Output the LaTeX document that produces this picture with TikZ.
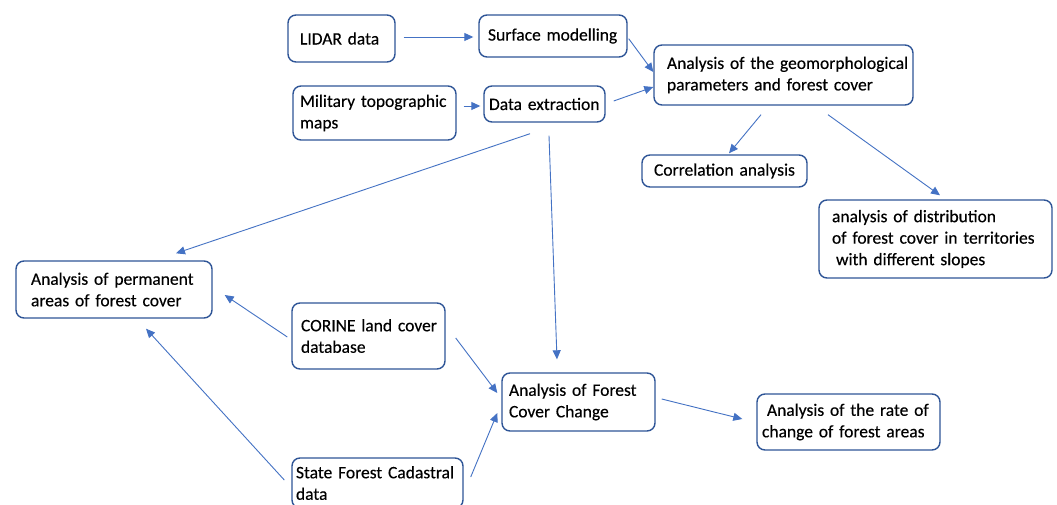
\documentclass[tikz,border=0pt]{standalone}
\usepackage{fontspec}
\setmainfont{Carlito}[FakeBold=0.3]
\usetikzlibrary{arrows.meta,calc}
\definecolor{boxblue}{HTML}{2F5597}
\definecolor{arrblue}{HTML}{4472C4}
\newcommand{\ind}[1]{\hspace*{#1pt}}
\begin{document}
\begin{tikzpicture}[x=1pt,y=-1pt,
  box/.style={draw=boxblue, line width=1.4pt, rounded corners=8pt, inner xsep=0pt, inner ysep=0pt,
    align=left, font=\fontsize{17.5}{21.5}\selectfont, text=black},
  arr/.style={draw=arrblue, line width=0.9pt, -{Triangle[length=9pt,width=8pt]}}]
\useasboundingbox[fill=white] (0,0) rectangle (1057,505);

\node[box, minimum width=107pt, text width=107pt, minimum height=47pt] (lidar) at (341.5,38.5) {\ind{12}LIDAR data};
\node[box, minimum width=148pt, text width=148pt, minimum height=42pt] (surf) at (553,36) {\ind{9}Surface modelling};
\node[box, minimum width=163pt, text width=163pt, minimum height=54pt] (mil) at (374.5,113) {\ind{7}Military topographic\\\ind{7}maps};
\node[box, minimum width=121pt, text width=121pt, minimum height=36pt] (dex) at (544.5,104) {\ind{5}Data extraction};
\node[box, minimum width=259pt, text width=259pt, minimum height=60pt] (geo) at (783.5,75) {\ind{13}Analysis of the geomorphological\\\ind{13}parameters and forest cover};
\node[box, minimum width=165pt, text width=165pt, minimum height=32pt] (cor) at (724.5,171) {\ind{12}Correlation analysis};
\node[box, minimum width=233pt, text width=233pt, minimum height=78pt] (dist) at (935.5,239) {\ind{13}analysis of distribution\\\ind{13}of forest cover in territories\\\ind{17}with different slopes};
\node[box, minimum width=196pt, text width=196pt, minimum height=57pt] (perm) at (114,289.5) {\ind{15}Analysis of permanent\\\ind{15}areas of forest cover};
\node[box, minimum width=153pt, text width=153pt, minimum height=66pt] (corine) at (368.5,336) {\ind{9}CORINE land cover\\\ind{9}database};
\node[box, minimum width=171pt, text width=171pt, minimum height=50pt] (state) at (377.5,483) {\ind{4}State Forest Cadastral\\\ind{4}data};
\node[box, minimum width=153pt, text width=153pt, minimum height=58pt] (chg) at (578.5,402) {\ind{7}Analysis of Forest\\\ind{7}Cover Change};
\node[box, minimum width=183pt, text width=183pt, minimum height=56pt] (rate) at (848.5,422) {\ind{10}Analysis of the rate of\\\ind{5}change of forest areas};

\draw[arr] ($(lidar.east)+(8,-1.5)$) -- ($(surf.west)+(-5,1)$);
\draw[arr] ($(mil.east)+(7,-7)$) -- ($(dex.west)+(-3,2)$);
\draw[arr] ($(surf.south east)+(1,-19)$) -- ($(geo.west)+(0,-3)$);
\draw[arr] ($(dex.east)+(8,-3)$) -- ($(geo.west)+(0,12)$);
\draw[arr] ($(geo.south)+(-22.5,9)$) -- ($(cor.north)+(4.5,-1)$);
\draw[arr] ($(geo.south)+(44.5,9)$) -- ($(dist.north)+(4.5,-4)$);
\draw[arr] ($(dex.south)+(-14.5,11)$) -- ($(perm.north)+(62,-7)$);
\draw[arr] ($(dex.south)+(4.5,13)$) -- ($(chg.north)+(-21.5,-13)$);
\draw[arr] ($(corine.west)+(-4,1)$) -- ($(perm.east)+(12,5.5)$);
\draw[arr] ($(state.west)+(-7,-3)$) -- ($(perm.south)+(32,10)$);
\draw[arr] ($(corine.east)+(10,2)$) -- ($(chg.west)+(-4,-9)$);
\draw[arr] ($(state.east)+(7,-6)$) -- ($(chg.west)+(-4,11)$);
\draw[arr] ($(chg.east)+(6,-3)$) -- ($(rate.west)+(-14,-3)$);
\end{tikzpicture}
\end{document}
